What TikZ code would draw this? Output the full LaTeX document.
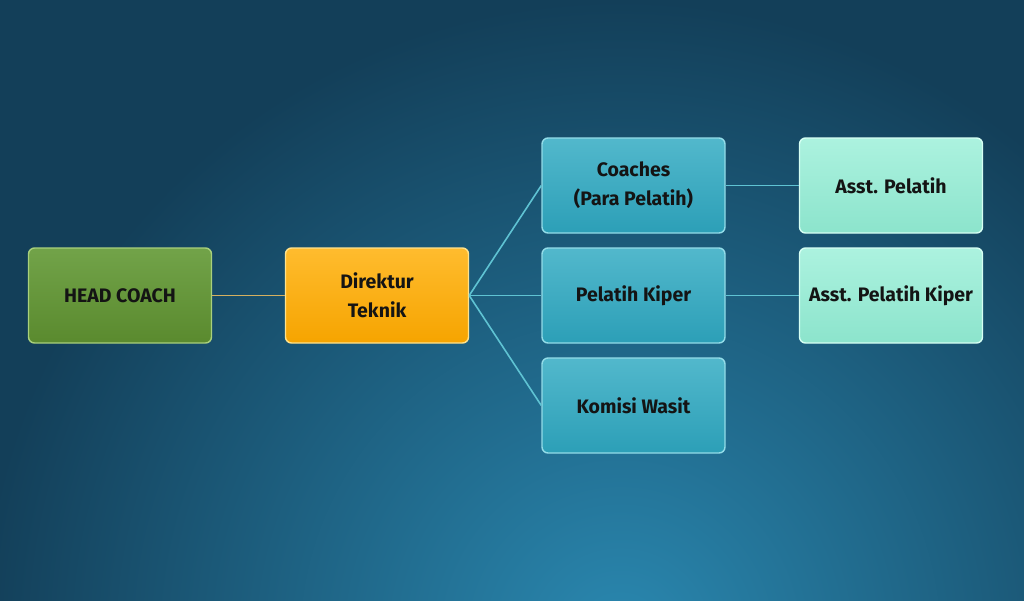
\documentclass[tikz,border=0pt]{standalone}
\usepackage{fontspec}
\setmainfont{Fira Sans}
\definecolor{bgtop}{HTML}{133F59}
\definecolor{bgglow}{HTML}{2A88B0}
\definecolor{gtop}{HTML}{72A349}
\definecolor{gbot}{HTML}{5A8A2E}
\definecolor{gbord}{HTML}{A9D07C}
\definecolor{otop}{HTML}{FFBC2E}
\definecolor{obot}{HTML}{F6A400}
\definecolor{obord}{HTML}{FFE28C}
\definecolor{ttop}{HTML}{52B8CC}
\definecolor{tbot}{HTML}{2C9FB7}
\definecolor{tbord}{HTML}{93DCE8}
\definecolor{mtop}{HTML}{ACF2DF}
\definecolor{mbot}{HTML}{8CE4CC}
\definecolor{mbord}{HTML}{D6FFF3}
\definecolor{lineorange}{HTML}{D4B060}
\definecolor{linecyan}{HTML}{5FC3D3}
\definecolor{txt}{HTML}{141414}
\tikzset{
  box/.style={rectangle, rounded corners=6pt, minimum width=183pt, minimum height=95pt,
    line width=1.4pt, align=center, text=txt, font=\fontsize{19.5}{29}\selectfont\bfseries},
  greenbox/.style={box, draw=gbord, top color=gtop, bottom color=gbot},
  orangebox/.style={box, draw=obord, top color=otop, bottom color=obot},
  tealbox/.style={box, draw=tbord, top color=ttop, bottom color=tbot},
  mintbox/.style={box, draw=mbord, top color=mtop, bottom color=mbot},
  conn/.style={line width=1.6pt}
}
\begin{document}
\begin{tikzpicture}[x=1pt,y=-1pt]
\useasboundingbox (0,0) rectangle (1024,600);
\fill[bgtop] (0,0) rectangle (1024,600);
\begin{scope}
\clip (0,0) rectangle (1024,600);
\shade[inner color=bgglow, outer color=bgtop] (620,640) circle (640);
\end{scope}
\node[greenbox] (hc) at (120,295.5) {HEAD COACH};
\node[orangebox] (dt) at (377,295.5) {Direktur\\Teknik};
\node[tealbox] (co) at (633.5,185.5) {Coaches\\(Para Pelatih)};
\node[tealbox] (pk) at (633.5,295.5) {Pelatih Kiper};
\node[tealbox] (kw) at (633.5,405.5) {Komisi Wasit};
\node[mintbox] (ap) at (891,185.5) {Asst. Pelatih};
\node[mintbox] (apk) at (891,295.5) {Asst. Pelatih Kiper};
\draw[conn, lineorange] (hc.east) -- (dt.west);
\draw[conn, linecyan] (dt.east) -- (co.west);
\draw[conn, linecyan] (dt.east) -- (pk.west);
\draw[conn, linecyan] (dt.east) -- (kw.west);
\draw[conn, linecyan] (co.east) -- (ap.west);
\draw[conn, linecyan] (pk.east) -- (apk.west);
\end{tikzpicture}
\end{document}
